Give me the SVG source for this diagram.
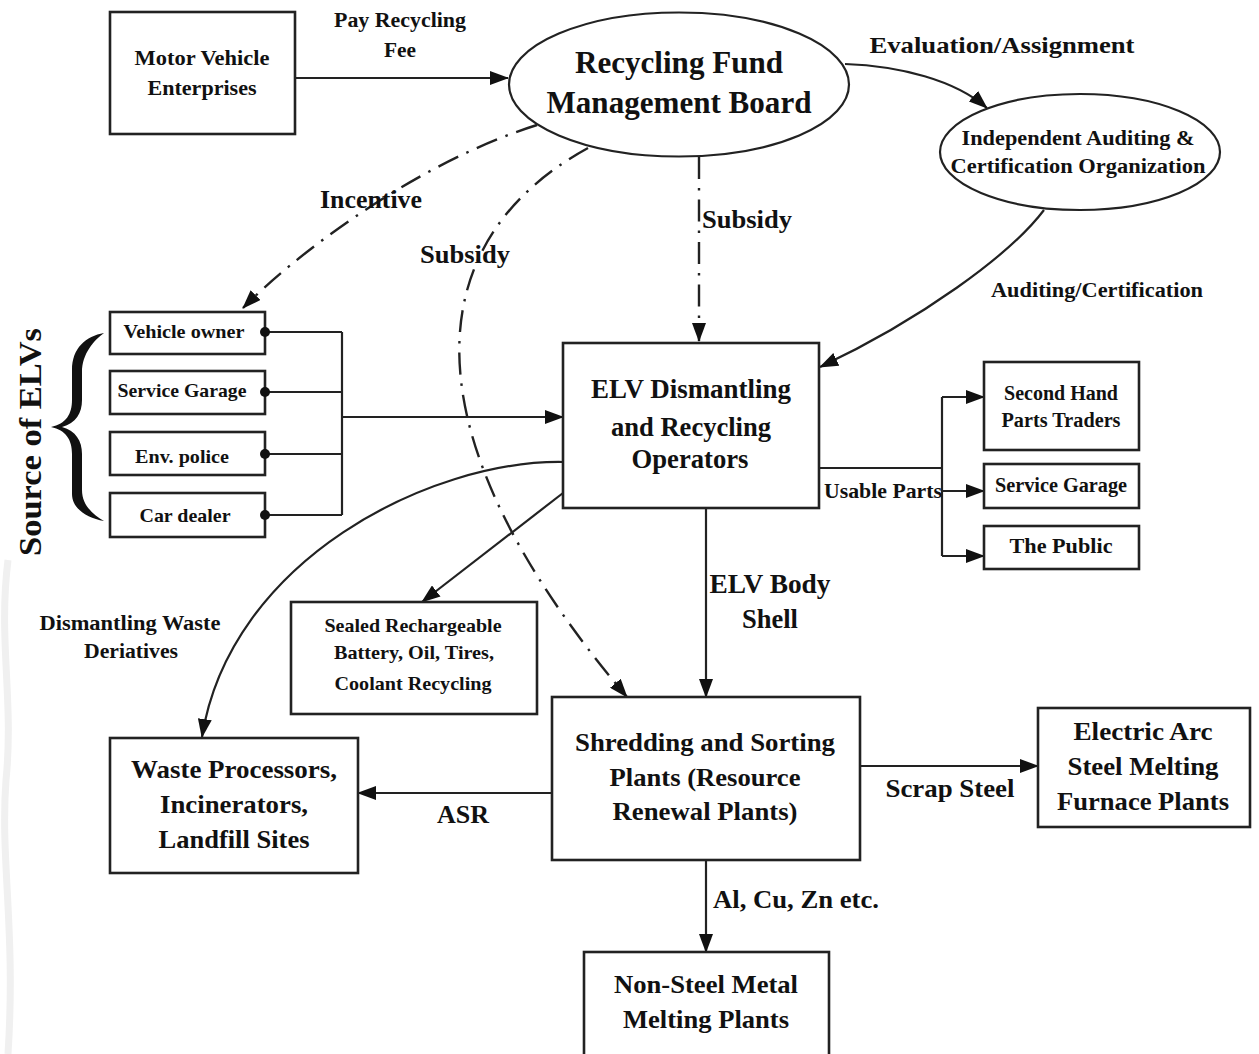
<svg xmlns="http://www.w3.org/2000/svg" width="1259" height="1054" viewBox="0 0 1259 1054">
  <defs>
    <marker id="arrow" markerUnits="userSpaceOnUse" markerWidth="19" markerHeight="14" refX="18" refY="7" orient="auto">
      <path d="M0,0 L19,7 L0,14 Z" fill="#111" stroke="none"/>
    </marker>
  </defs>
  <style>
    .box { fill: #fff; stroke: #222; stroke-width: 2.6; }
    .oval { fill: #fff; stroke: #222; stroke-width: 2.2; }
    .line { fill: none; stroke: #222; stroke-width: 2.2; }
    .dashdot { fill: none; stroke: #222; stroke-width: 2.4; stroke-dasharray: 22 9 2.5 9; }
    .dot { fill: #111; }
    text { font-family: "Liberation Serif", "Times New Roman", serif; font-weight: bold; fill: #111; text-anchor: middle; }
    .haze { fill: none; stroke: #f0f0f0; stroke-width: 7; }
  </style>

  <rect width="1259" height="1054" fill="#fff"/>
  <!-- faint background curves along the left edge -->
  <path class="haze" d="M8,560 C-2,640 14,700 6,780 C0,860 16,930 8,1054"/>

  <!-- connectors -->
  <g id="connectors">
    <path class="line" d="M295,78 H508" marker-end="url(#arrow)"/>
    <path class="line" d="M845,64 C900,66 955,80 987,108" marker-end="url(#arrow)"/>
    <path class="line" d="M1044,210 C1010,255 920,320 820,367" marker-end="url(#arrow)"/>
    <path class="dashdot" d="M699,157 V341" marker-end="url(#arrow)"/>
    <path class="dashdot" d="M537,125 C410,165 290,260 243,308" marker-end="url(#arrow)"/>
    <path class="dashdot" d="M588,148 C420,240 400,430 627,697" marker-end="url(#arrow)"/>

    <!-- sources of ELVs into the dismantlers -->
    <path class="line" d="M265,332 H342 M265,392 H342 M265,454 H342 M265,515 H342 M342,332 V515"/>
    <path class="line" d="M342,417 H563" marker-end="url(#arrow)"/>

    <!-- usable parts split -->
    <path class="line" d="M819,468 H942 M942,397 V556"/>
    <path class="line" d="M942,397 H984" marker-end="url(#arrow)"/>
    <path class="line" d="M942,491 H984" marker-end="url(#arrow)"/>
    <path class="line" d="M942,556 H984" marker-end="url(#arrow)"/>

    <path class="line" d="M706,508 V697" marker-end="url(#arrow)"/>
    <path class="line" d="M563,493 L422,602" marker-end="url(#arrow)"/>
    <path class="line" d="M563,462 C430,460 230,560 202,737" marker-end="url(#arrow)"/>
    <path class="line" d="M552,793 H358" marker-end="url(#arrow)"/>
    <path class="line" d="M860,766 H1038" marker-end="url(#arrow)"/>
    <path class="line" d="M706,860 V952" marker-end="url(#arrow)"/>
  </g>

  <!-- connector labels -->
  <g id="labels">
    <text x="400" y="27" font-size="20" textLength="132" lengthAdjust="spacingAndGlyphs">Pay Recycling</text>
    <text x="400" y="57" font-size="20" textLength="32" lengthAdjust="spacingAndGlyphs">Fee</text>
    <text x="1002" y="53" font-size="24" textLength="265" lengthAdjust="spacingAndGlyphs">Evaluation/Assignment</text>
    <text x="1097" y="297" font-size="20" textLength="212" lengthAdjust="spacingAndGlyphs">Auditing/Certification</text>
    <text x="747" y="228" font-size="25" textLength="90" lengthAdjust="spacingAndGlyphs">Subsidy</text>
    <text x="371" y="208" font-size="25" textLength="102" lengthAdjust="spacingAndGlyphs">Incentive</text>
    <text x="465" y="263" font-size="25" textLength="90" lengthAdjust="spacingAndGlyphs">Subsidy</text>
    <text x="883" y="498" font-size="21" textLength="118" lengthAdjust="spacingAndGlyphs">Usable Parts</text>
    <text x="770" y="593" font-size="27" textLength="121" lengthAdjust="spacingAndGlyphs">ELV Body</text>
    <text x="770" y="628" font-size="27" textLength="56" lengthAdjust="spacingAndGlyphs">Shell</text>
    <text x="130" y="630" font-size="20" textLength="181" lengthAdjust="spacingAndGlyphs">Dismantling Waste</text>
    <text x="131" y="658" font-size="20" textLength="94" lengthAdjust="spacingAndGlyphs">Deriatives</text>
    <text x="463" y="823" font-size="25" textLength="52" lengthAdjust="spacingAndGlyphs">ASR</text>
    <text x="950" y="797" font-size="25" textLength="129" lengthAdjust="spacingAndGlyphs">Scrap Steel</text>
    <text x="796" y="908" font-size="25" textLength="166" lengthAdjust="spacingAndGlyphs">Al, Cu, Zn etc.</text>
    <!-- brace grouping the ELV sources -->
    <path fill="#111" d="M104,333 C86,336 72,348 72,370 L72,400 C72,414 66,424 51,427 C66,430 72,440 72,454 L72,494 C72,508 86,518 104,521 C94,515 82,506 82,490 L82,454 C82,441 76,431 62,427 C76,423 82,413 82,400 L82,372 C82,354 94,340 104,333 Z"/>
    <text transform="translate(41,442) rotate(-90)" font-size="32" textLength="228" lengthAdjust="spacingAndGlyphs">Source of ELVs</text>
  </g>

  <!-- nodes -->
  <g id="motor-vehicle-enterprises">
    <rect class="box" x="110" y="12" width="185" height="122"/>
    <text x="202" y="65" font-size="22" textLength="135" lengthAdjust="spacingAndGlyphs">Motor Vehicle</text>
    <text x="202" y="95" font-size="22" textLength="109" lengthAdjust="spacingAndGlyphs">Enterprises</text>
  </g>
  <g id="recycling-fund-board">
    <ellipse class="oval" cx="679" cy="84.5" rx="170" ry="72"/>
    <text x="679" y="73" font-size="31" textLength="208" lengthAdjust="spacingAndGlyphs">Recycling Fund</text>
    <text x="679" y="113" font-size="31" textLength="265" lengthAdjust="spacingAndGlyphs">Management Board</text>
  </g>
  <g id="auditing-organization">
    <ellipse class="oval" cx="1080" cy="152" rx="140" ry="58"/>
    <text x="1078" y="145" font-size="20" textLength="233" lengthAdjust="spacingAndGlyphs">Independent Auditing &amp;</text>
    <text x="1078" y="173" font-size="20" textLength="255" lengthAdjust="spacingAndGlyphs">Certification Organization</text>
  </g>
  <g id="vehicle-owner">
    <rect class="box" x="110" y="312" width="155" height="42"/>
    <text x="184" y="338" font-size="19" textLength="121" lengthAdjust="spacingAndGlyphs">Vehicle owner</text>
    <circle class="dot" cx="265" cy="332" r="5"/>
  </g>
  <g id="service-garage-source">
    <rect class="box" x="110" y="371" width="155" height="43"/>
    <text x="182" y="397" font-size="19" textLength="129" lengthAdjust="spacingAndGlyphs">Service Garage</text>
    <circle class="dot" cx="265" cy="392" r="5"/>
  </g>
  <g id="env-police">
    <rect class="box" x="110" y="432" width="155" height="43"/>
    <text x="182" y="463" font-size="19" textLength="94" lengthAdjust="spacingAndGlyphs">Env. police</text>
    <circle class="dot" cx="265" cy="454" r="5"/>
  </g>
  <g id="car-dealer">
    <rect class="box" x="110" y="493" width="155" height="44"/>
    <text x="185" y="522" font-size="19" textLength="91" lengthAdjust="spacingAndGlyphs">Car dealer</text>
    <circle class="dot" cx="265" cy="515" r="5"/>
  </g>
  <g id="elv-dismantling">
    <rect class="box" x="563" y="343" width="256" height="165"/>
    <text x="691" y="398" font-size="28" textLength="200" lengthAdjust="spacingAndGlyphs">ELV Dismantling</text>
    <text x="691" y="436" font-size="28" textLength="160" lengthAdjust="spacingAndGlyphs">and Recycling</text>
    <text x="690" y="468" font-size="28" textLength="117" lengthAdjust="spacingAndGlyphs">Operators</text>
  </g>
  <g id="second-hand-traders">
    <rect class="box" x="984" y="362" width="155" height="88"/>
    <text x="1061" y="400" font-size="20" textLength="114" lengthAdjust="spacingAndGlyphs">Second Hand</text>
    <text x="1061" y="427" font-size="20" textLength="119" lengthAdjust="spacingAndGlyphs">Parts Traders</text>
  </g>
  <g id="service-garage-parts">
    <rect class="box" x="984" y="464" width="155" height="44"/>
    <text x="1061" y="492" font-size="20" textLength="132" lengthAdjust="spacingAndGlyphs">Service Garage</text>
  </g>
  <g id="the-public">
    <rect class="box" x="984" y="526" width="155" height="43"/>
    <text x="1061" y="553" font-size="20" textLength="103" lengthAdjust="spacingAndGlyphs">The Public</text>
  </g>
  <g id="sealed-battery-recycling">
    <rect class="box" x="291" y="602" width="246" height="112"/>
    <text x="413" y="632" font-size="19" textLength="177" lengthAdjust="spacingAndGlyphs">Sealed Rechargeable</text>
    <text x="414" y="659" font-size="19" textLength="160" lengthAdjust="spacingAndGlyphs">Battery, Oil, Tires,</text>
    <text x="413" y="690" font-size="19" textLength="157" lengthAdjust="spacingAndGlyphs">Coolant Recycling</text>
  </g>
  <g id="shredding-sorting">
    <rect class="box" x="552" y="697" width="308" height="163"/>
    <text x="705" y="751" font-size="26" textLength="260" lengthAdjust="spacingAndGlyphs">Shredding and Sorting</text>
    <text x="705" y="786" font-size="26" textLength="191" lengthAdjust="spacingAndGlyphs">Plants (Resource</text>
    <text x="705" y="820" font-size="26" textLength="185" lengthAdjust="spacingAndGlyphs">Renewal Plants)</text>
  </g>
  <g id="waste-processors">
    <rect class="box" x="110" y="738" width="248" height="135"/>
    <text x="234" y="778" font-size="26" textLength="206" lengthAdjust="spacingAndGlyphs">Waste Processors,</text>
    <text x="234" y="813" font-size="26" textLength="148" lengthAdjust="spacingAndGlyphs">Incinerators,</text>
    <text x="234" y="848" font-size="26" textLength="151" lengthAdjust="spacingAndGlyphs">Landfill Sites</text>
  </g>
  <g id="electric-arc-furnace">
    <rect class="box" x="1038" y="708" width="212" height="119"/>
    <text x="1143" y="740" font-size="26" textLength="139" lengthAdjust="spacingAndGlyphs">Electric Arc</text>
    <text x="1143" y="775" font-size="26" textLength="151" lengthAdjust="spacingAndGlyphs">Steel Melting</text>
    <text x="1143" y="810" font-size="26" textLength="172" lengthAdjust="spacingAndGlyphs">Furnace Plants</text>
  </g>
  <g id="non-steel-metal">
    <rect class="box" x="584" y="952" width="245" height="120"/>
    <text x="706" y="993" font-size="26" textLength="184" lengthAdjust="spacingAndGlyphs">Non-Steel Metal</text>
    <text x="706" y="1028" font-size="26" textLength="166" lengthAdjust="spacingAndGlyphs">Melting Plants</text>
  </g>
</svg>
